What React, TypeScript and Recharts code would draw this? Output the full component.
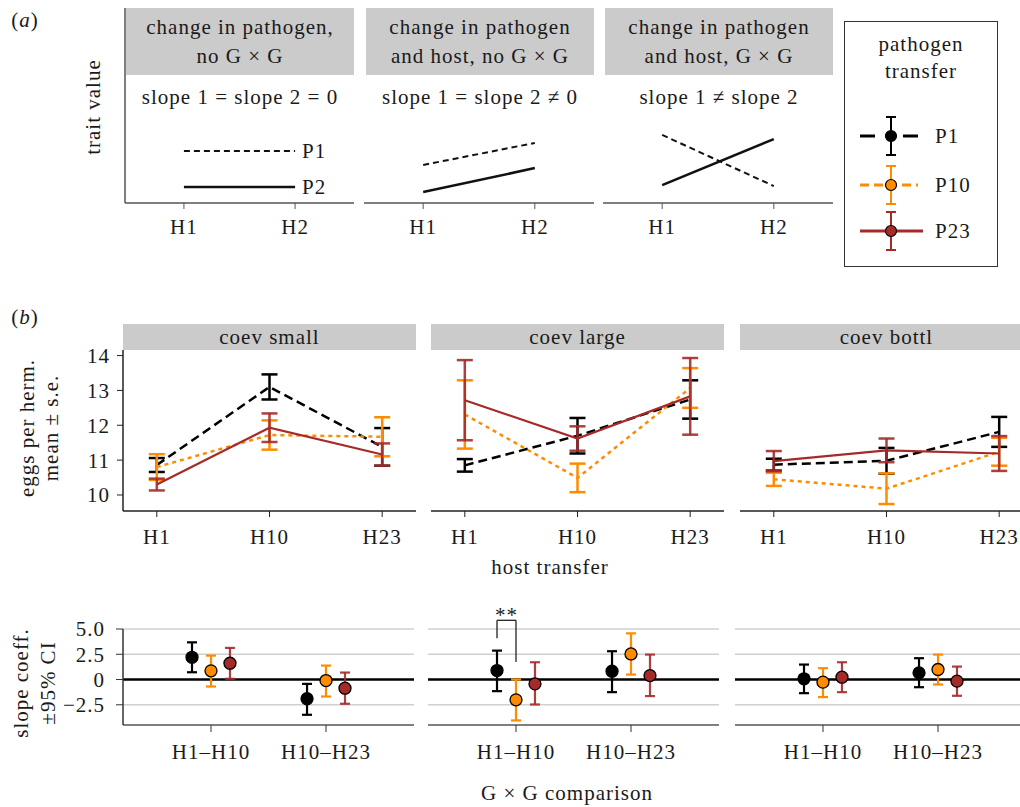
import React from "react"
import { LineChart, Line, XAxis, YAxis, ErrorBar, ReferenceLine, ReferenceDot } from "recharts"

const INK = "#1a1a1a"
const ORANGE = "#ff8c00"
const BROWN = "#a52a2a"
const STRIP = "#cbcbcb"

// (a) schematic panels
const schematicHosts = ["H1", "H2"]
const schematicTitles = [
  ["change in pathogen,", "no G × G"],
  ["change in pathogen", "and host,  no G × G"],
  ["change in pathogen", "and host, G × G"],
]
const schematicSlopes = ["slope 1 = slope 2 = 0", "slope 1 = slope 2 ≠ 0", "slope 1 ≠ slope 2"]
const schematicP1 = [[2.67, 2.67], [1.95, 3.08], [3.49, 0.87]]
const schematicP2 = [[0.82, 0.82], [0.56, 1.79], [0.92, 3.28]]

// (b) eggs per hermaphrodite, mean ± s.e.
const regimes = ["coev small", "coev large", "coev bottl"]
const hostTransfers = ["H1", "H10", "H23"]
const pathogens = ["P1", "P10", "P23"]
const eggsP1 = [[10.86, 13.1, 11.38], [10.85, 11.7, 12.74], [10.87, 10.98, 11.81]]
const seP1 = [[0.2, 0.36, 0.54], [0.18, 0.51, 0.55], [0.17, 0.37, 0.43]]
const eggsP10 = [[10.8, 11.72, 11.67], [12.31, 10.49, 13.07], [10.45, 10.18, 11.24]]
const seP10 = [[0.37, 0.42, 0.56], [0.98, 0.41, 0.57], [0.19, 0.44, 0.4]]
const eggsP23 = [[10.3, 11.93, 11.16], [12.72, 11.62, 12.83], [10.97, 11.28, 11.19]]
const seP23 = [[0.17, 0.41, 0.32], [1.15, 0.35, 1.1], [0.29, 0.34, 0.5]]
const eggTicks = [10, 11, 12, 13, 14]

// (b) slope coefficients ± 95% CI
const comparisons = ["H1–H10", "H10–H23"]
const slopeP1 = [[2.2, -1.9], [0.89, 0.82], [0.07, 0.66]]
const loP1 = [[0.72, -3.49], [-1.15, -1.25], [-1.35, -0.76]]
const hiP1 = [[3.68, -0.43], [2.86, 2.8], [1.48, 2.11]]
const slopeP10 = [[0.86, -0.1], [-2.01, 2.53], [-0.26, 0.99]]
const loP10 = [[-0.69, -1.68], [-4.05, 0.49], [-1.74, -0.49]]
const hiP10 = [[2.37, 1.38], [0, 4.57], [1.12, 2.47]]
const slopeP23 = [[1.61, -0.86], [-0.43, 0.39], [0.23, -0.16]]
const loP23 = [[0.07, -2.4], [-2.47, -1.64], [-1.25, -1.61]]
const hiP23 = [[3.13, 0.69], [1.71, 2.47], [1.71, 1.28]]
const slopeTicks = [-2.5, 0, 2.5, 5]
// ** between P1 and P10, coev large, H1–H10
const sigBracket = { regime: 1, comparison: 0, top: 5.86, leftEnd: 4.08, rightEnd: 1.74, text: "**" }

const eggs = [eggsP1, eggsP10, eggsP23]
const ses = [seP1, seP10, seP23]
const slopes = [slopeP1, slopeP10, slopeP23]
const los = [loP1, loP10, loP23]
const his = [hiP1, hiP10, hiP23]

const styles = [
  { color: "#000", dash: "9 5", width: 2.5 },
  { color: ORANGE, dash: "4 4", width: 2.5 },
  { color: BROWN, dash: undefined, width: 2.2 },
]
const dodge = [-0.165, 0, 0.165]

const Txt = ({ x, y, children, style }: any) => (
  <div
    style={{
      position: "absolute",
      left: x,
      top: y,
      transform: "translate(-50%,-50%)",
      whiteSpace: "nowrap",
      textAlign: "center",
      ...style,
    }}
  >
    {children}
  </div>
)

const VTxt = ({ x, y, children, lh }: any) => (
  <Txt x={x} y={y} style={{ transform: "translate(-50%,-50%) rotate(-90deg)", lineHeight: `${lh}px` }}>
    {children}
  </Txt>
)

function SchematicPanel({ k, left }: { k: number; left: number }) {
  const data = schematicHosts.map((h, i) => ({ x: i + 1, p1: schematicP1[k][i], p2: schematicP2[k][i] }))
  return (
    <>
      <div
        style={{
          position: "absolute",
          left: left + 1,
          top: 8,
          width: 228,
          height: 67,
          background: STRIP,
          textAlign: "center",
          lineHeight: "29px",
          paddingTop: 5,
          boxSizing: "border-box",
        }}
      >
        {schematicTitles[k][0]}
        <br />
        {schematicTitles[k][1]}
      </div>
      <Txt x={left + 115} y={97}>
        {schematicSlopes[k]}
      </Txt>
      <div style={{ position: "absolute", left: left - 1, top: 8 }}>
        <LineChart width={230} height={235} data={data} margin={{ top: 0, right: 0, bottom: 0, left: 0 }}>
          <XAxis
            type="number"
            dataKey="x"
            domain={[0.47, 2.53]}
            ticks={[1, 2]}
            interval={0}
            tickFormatter={(v) => schematicHosts[Math.round(v) - 1]}
            stroke="#555"
            axisLine={{ stroke: "#555", strokeWidth: 1.5 }}
            tickLine={{ stroke: "#555" }}
            tickSize={6}
            tickMargin={10}
            tick={{ fill: INK }}
            height={40}
          />
          <YAxis
            type="number"
            domain={[0, 10]}
            hide={k > 0}
            width={1}
            tick={false}
            tickLine={false}
            axisLine={{ stroke: "#555", strokeWidth: 1.5 }}
          />
          <Line dataKey="p1" stroke="#111" strokeWidth={2} strokeDasharray="6 4" dot={false} isAnimationActive={false} />
          <Line dataKey="p2" stroke="#111" strokeWidth={2.5} dot={false} isAnimationActive={false} />
          {k === 0 && (
            <ReferenceDot x={2} y={schematicP1[0][1]} r={0} stroke="none" label={{ value: "P1", position: "right", offset: 7, fill: INK }} />
          )}
          {k === 0 && (
            <ReferenceDot x={2} y={schematicP2[0][1]} r={0} stroke="none" label={{ value: "P2", position: "right", offset: 7, fill: INK }} />
          )}
        </LineChart>
      </div>
    </>
  )
}

function LegendBox() {
  const rows = [115, 164, 210]
  return (
    <div style={{ position: "absolute", left: 844, top: 21, width: 154, height: 246, border: "1px solid #333", boxSizing: "border-box" }}>
      <div style={{ position: "absolute", left: 0, top: 9, width: "100%", textAlign: "center", lineHeight: "27px" }}>
        pathogen
        <br />
        transfer
      </div>
      <svg width={154} height={246} style={{ position: "absolute", left: -1, top: -1 }}>
        {pathogens.map((p, i) => {
          const s = styles[i]
          const y = rows[i]
          return (
            <g key={p}>
              <line
                x1={16}
                x2={i === 2 ? 79 : 74}
                y1={y}
                y2={y}
                stroke={s.color}
                strokeWidth={3}
                strokeDasharray={i === 0 ? "15 28" : i === 1 ? "9 5" : undefined}
              />
              <line x1={47} x2={47} y1={y - 19} y2={y + 19} stroke={s.color} strokeWidth={2} />
              <line x1={42} x2={52} y1={y - 19} y2={y - 19} stroke={s.color} strokeWidth={2} />
              <line x1={42} x2={52} y1={y + 19} y2={y + 19} stroke={s.color} strokeWidth={2} />
              <circle cx={47} cy={y} r={5.5} fill={s.color} stroke="#000" strokeWidth={1.2} />
              <text x={91} y={y} dominantBaseline="central" fill={INK}>
                {p}
              </text>
            </g>
          )
        })}
      </svg>
    </div>
  )
}

function EggPanel({ r, left }: { r: number; left: number }) {
  const showY = r === 0
  const yW = showY ? 55 : 0
  const top = 12
  return (
    <>
      <div
        style={{
          position: "absolute",
          left,
          top: 324,
          width: 293,
          height: 26,
          background: STRIP,
          textAlign: "center",
          lineHeight: "26px",
        }}
      >
        {regimes[r]}
      </div>
      <div style={{ position: "absolute", left: left - yW, top: 350 - top }}>
        <LineChart width={293 + yW} height={top + 161 + 45} margin={{ top, right: 0, bottom: 0, left: 0 }}>
          <XAxis
            type="number"
            dataKey="x"
            domain={[0.7, 3.3]}
            ticks={[1, 2, 3]}
            interval={0}
            allowDataOverflow
            tickFormatter={(v) => hostTransfers[Math.round(v) - 1]}
            stroke="#222"
            axisLine={{ stroke: "#222", strokeWidth: 1.5 }}
            tickLine={{ stroke: "#222" }}
            tickSize={6}
            tickMargin={12}
            tick={{ fill: INK }}
            height={45}
          />
          <YAxis
            type="number"
            domain={[9.54, 14.16]}
            ticks={eggTicks}
            interval={0}
            allowDataOverflow
            hide={!showY}
            width={55}
            stroke="#222"
            axisLine={{ stroke: "#222", strokeWidth: 1.5 }}
            tickLine={{ stroke: "#222" }}
            tickSize={6}
            tickMargin={7}
            tick={{ fill: INK }}
          />
          {pathogens.map((p, k) => {
            const s = styles[k]
            const data = hostTransfers.map((h, i) => ({ x: i + 1, y: eggs[k][r][i], err: ses[k][r][i] }))
            return (
              <Line
                key={p}
                data={data}
                dataKey="y"
                stroke={s.color}
                strokeWidth={s.width}
                strokeDasharray={s.dash}
                dot={false}
                activeDot={false}
                isAnimationActive={false}
              >
                <ErrorBar dataKey="err" width={8} strokeWidth={2.5} stroke={s.color} strokeOpacity={k === 2 ? 0.9 : 1} direction="y" />
              </Line>
            )
          })}
        </LineChart>
      </div>
    </>
  )
}

const fmtSlope = (v: number) => (v === 0 ? "0" : (v < 0 ? "−" : "") + Math.abs(v).toFixed(1))

function SlopePanel({ r, left }: { r: number; left: number }) {
  const showY = r === 0
  const yW = showY ? 70 : 0
  const top = 30
  const b = sigBracket
  const bx1 = b.comparison + 1 + dodge[0]
  const bx2 = b.comparison + 1 + dodge[1]
  return (
    <div style={{ position: "absolute", left: left - yW, top: 629 - top }}>
      <LineChart width={291 + yW} height={top + 96 + 45} margin={{ top, right: 0, bottom: 0, left: 0 }}>
        <XAxis
          type="number"
          dataKey="x"
          domain={[0.235, 2.765]}
          ticks={[1, 2]}
          interval={0}
          allowDataOverflow
          tickFormatter={(v) => comparisons[Math.round(v) - 1]}
          stroke="#555"
          axisLine={{ stroke: "#555", strokeWidth: 1.5 }}
          tickLine={{ stroke: "#333" }}
          tickSize={7}
          tickMargin={12}
          tick={{ fill: INK }}
          height={45}
        />
        <YAxis
          type="number"
          domain={[-4.5, 5]}
          ticks={slopeTicks}
          interval={0}
          allowDataOverflow
          hide={!showY}
          width={70}
          tickFormatter={fmtSlope}
          stroke="#333"
          axisLine={{ stroke: "#333", strokeWidth: 1.5 }}
          tickLine={{ stroke: "#333" }}
          tickSize={7}
          tickMargin={11}
          tick={{ fill: INK }}
        />
        {slopeTicks
          .filter((v) => v !== 0)
          .map((v) => (
            <ReferenceLine key={v} y={v} stroke="#cfcfcf" strokeWidth={1.5} />
          ))}
        <ReferenceLine y={0} stroke="#000" strokeWidth={2.5} />
        {r === b.regime && (
          <ReferenceLine
            segment={[
              { x: bx1, y: b.leftEnd },
              { x: bx1, y: b.top },
            ]}
            stroke="#222"
            strokeWidth={1.3}
            ifOverflow="visible"
          />
        )}
        {r === b.regime && (
          <ReferenceLine
            segment={[
              { x: bx1, y: b.top },
              { x: bx2, y: b.top },
            ]}
            stroke="#222"
            strokeWidth={1.3}
            ifOverflow="visible"
            label={{ value: b.text, position: "top", offset: -2, fill: INK }}
          />
        )}
        {r === b.regime && (
          <ReferenceLine
            segment={[
              { x: bx2, y: b.top },
              { x: bx2, y: b.rightEnd },
            ]}
            stroke="#222"
            strokeWidth={1.3}
            ifOverflow="visible"
          />
        )}
        {pathogens.map((p, k) => {
          const s = styles[k]
          const data = comparisons.map((c, i) => ({
            x: i + 1 + dodge[k],
            y: slopes[k][r][i],
            ci: [slopes[k][r][i] - los[k][r][i], his[k][r][i] - slopes[k][r][i]],
          }))
          return (
            <Line
              key={p}
              data={data}
              dataKey="y"
              stroke="none"
              strokeWidth={0}
              dot={{ r: 6, fill: s.color, stroke: "#000", strokeWidth: 1.3 }}
              activeDot={false}
              isAnimationActive={false}
            >
              <ErrorBar dataKey="ci" width={5} strokeWidth={2.2} stroke={s.color} strokeOpacity={k === 2 ? 0.9 : 1} direction="y" />
            </Line>
          )
        })}
      </LineChart>
    </div>
  )
}

export default function App() {
  return (
    <div
      style={{
        position: "absolute",
        left: 0,
        top: 0,
        width: 1020,
        height: 807,
        overflow: "hidden",
        background: "#fff",
        color: INK,
        fontFamily: '"Liberation Serif", "Times New Roman", serif',
        fontSize: 21,
        letterSpacing: 1,
      }}
    >
      <Txt x={25} y={20}>
        (<i>a</i>)
      </Txt>
      <VTxt x={93} y={107} lh={24}>
        trait value
      </VTxt>
      {[125, 365, 604].map((l, k) => (
        <SchematicPanel key={k} k={k} left={l} />
      ))}
      <LegendBox />

      <Txt x={25} y={317}>
        (<i>b</i>)
      </Txt>
      <VTxt x={39} y={428} lh={24}>
        eggs per herm.
        <br />
        mean ± s.e.
      </VTxt>
      {[123, 431, 740].map((l, r) => (
        <EggPanel key={r} r={r} left={l} />
      ))}
      <Txt x={550} y={567}>
        host transfer
      </Txt>

      <VTxt x={35} y={683} lh={27}>
        slope coeff.
        <br />
        ±95% CI
      </VTxt>
      {[123, 428, 735].map((l, r) => (
        <SlopePanel key={r} r={r} left={l} />
      ))}
      <Txt x={567} y={793}>
        G × G comparison
      </Txt>
    </div>
  )
}
